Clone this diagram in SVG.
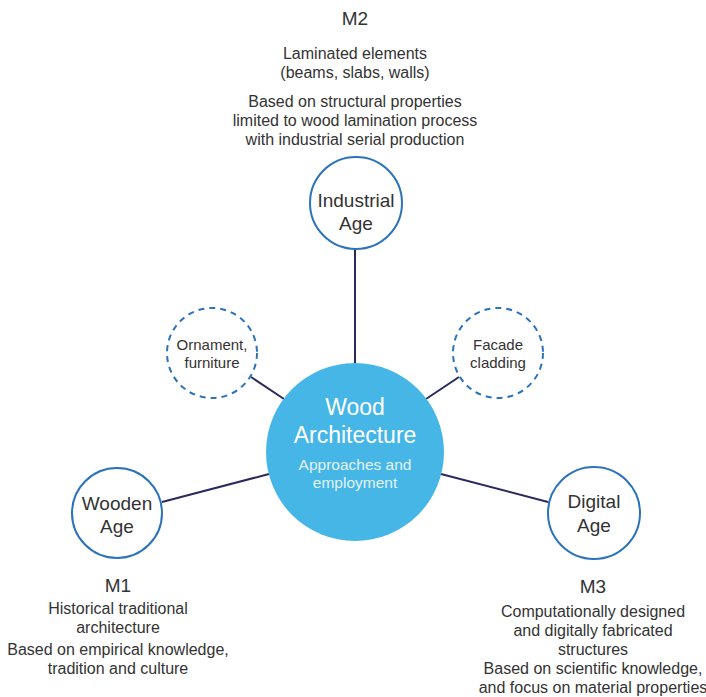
<svg xmlns="http://www.w3.org/2000/svg" width="706" height="697" viewBox="0 0 706 697">
<style>
  .t { font-family: "Liberation Sans", Arial, sans-serif; fill: #333333; text-anchor: middle; }
  .m { font-size: 19px; }
  .d { font-size: 16px; }
  .n { font-size: 19px; }
  .s { font-size: 15px; }
  .node { fill: #ffffff; stroke: #2b73ba; stroke-width: 2; }
  .dash { fill: #ffffff; stroke: #2b73ba; stroke-width: 2; stroke-dasharray: 6 5; }
  .conn { stroke: #2c2a5c; stroke-width: 2; fill: none; }
  .c1 { font-family: "Liberation Sans", Arial, sans-serif; fill: #ffffff; text-anchor: middle; font-size: 23px; }
  .c2 { font-family: "Liberation Sans", Arial, sans-serif; fill: #e3f3fb; text-anchor: middle; font-size: 15.5px; }
</style>
<rect width="706" height="697" fill="#ffffff"/>
<g id="connectors">
  <line class="conn" x1="355" y1="249" x2="355" y2="364"/>
  <line class="conn" x1="251" y1="377" x2="284" y2="399"/>
  <line class="conn" x1="459" y1="377" x2="426" y2="399"/>
  <line class="conn" x1="162" y1="502" x2="269" y2="474"/>
  <line class="conn" x1="548" y1="502" x2="441" y2="474"/>
</g>
<g id="m2-text">
  <text class="t m" x="355" y="25">M2</text>
  <text class="t d" x="355" y="59">Laminated elements</text>
  <text class="t d" x="355" y="78">(beams, slabs, walls)</text>
  <text class="t d" x="355" y="107">Based on structural properties</text>
  <text class="t d" x="355" y="126">limited to wood lamination process</text>
  <text class="t d" x="355" y="145">with industrial serial production</text>
</g>
<g id="industrial">
  <circle class="node" cx="356" cy="203" r="46"/>
  <text class="t n" x="356" y="207">Industrial</text>
  <text class="t n" x="356" y="230">Age</text>
</g>
<g id="ornament">
  <circle class="dash" cx="212" cy="353" r="45"/>
  <text class="t s" x="212" y="350">Ornament,</text>
  <text class="t s" x="212" y="368">furniture</text>
</g>
<g id="facade">
  <circle class="dash" cx="498" cy="353" r="45"/>
  <text class="t s" x="498" y="350">Facade</text>
  <text class="t s" x="498" y="368">cladding</text>
</g>
<g id="wood-architecture">
  <circle cx="355" cy="452" r="89" fill="#46b6e7"/>
  <text class="c1" x="355" y="415">Wood</text>
  <text class="c1" x="355" y="443">Architecture</text>
  <text class="c2" x="355" y="470">Approaches and</text>
  <text class="c2" x="355" y="488">employment</text>
</g>
<g id="wooden">
  <circle class="node" cx="117" cy="513" r="45"/>
  <text class="t n" x="117" y="510">Wooden</text>
  <text class="t n" x="117" y="533">Age</text>
</g>
<g id="digital">
  <circle class="node" cx="594" cy="513" r="46"/>
  <text class="t n" x="594" y="508">Digital</text>
  <text class="t n" x="594" y="532">Age</text>
</g>
<g id="m1-text">
  <text class="t m" x="118" y="592">M1</text>
  <text class="t d" x="118" y="614">Historical traditional</text>
  <text class="t d" x="118" y="633">architecture</text>
  <text class="t d" x="118" y="655">Based on empirical knowledge,</text>
  <text class="t d" x="118" y="674">tradition and culture</text>
</g>
<g id="m3-text">
  <text class="t m" x="593" y="593">M3</text>
  <text class="t d" x="593" y="617">Computationally designed</text>
  <text class="t d" x="593" y="636">and digitally fabricated</text>
  <text class="t d" x="593" y="655">structures</text>
  <text class="t d" x="593" y="674">Based on scientific knowledge,</text>
  <text class="t d" x="593" y="693">and focus on material properties</text>
</g>
</svg>
